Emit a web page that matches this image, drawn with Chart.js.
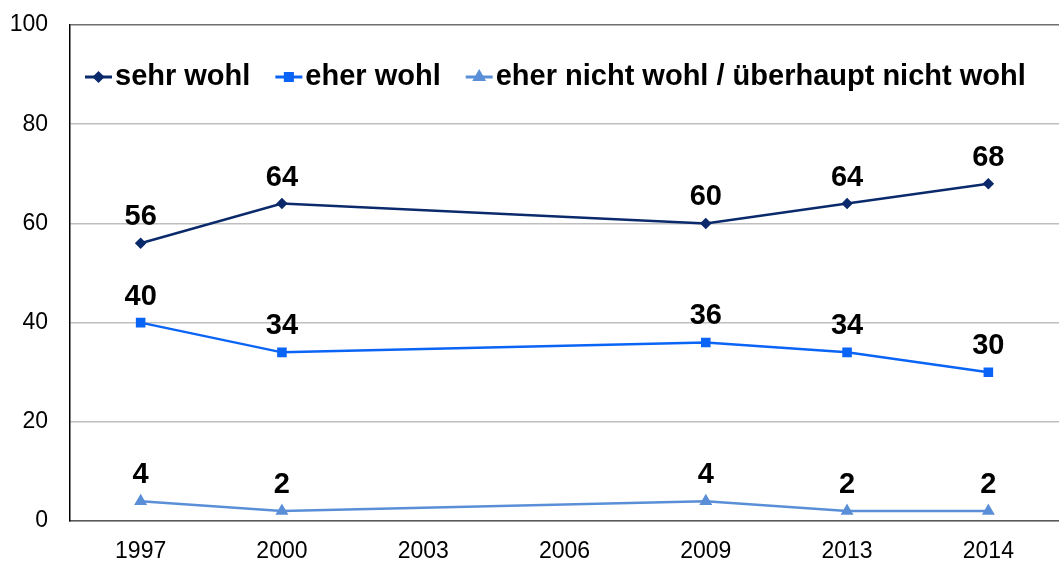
<!DOCTYPE html>
<html>
<head>
<meta charset="utf-8">
<script src="https://cdn.jsdelivr.net/npm/chart.js@4"></script>
<style>
  html, body { margin: 0; padding: 0; background: #ffffff; overflow: hidden; }
  #wrap { width: 1059px; height: 561px; }
  canvas { display: block; }
</style>
</head>
<body>
<div id="wrap"><canvas id="chart" width="1059" height="561"></canvas></div>
<script>
const years = ['1997', '2000', '2003', '2006', '2009', '2013', '2014'];
const sehrWohl = [56, 64, null, null, 60, 64, 68];
const eherWohl = [40, 34, null, null, 36, 34, 30];
const nichtWohl = [4, 2, null, null, 4, 2, 2];
const yTicks = [0, 20, 40, 60, 80, 100];

const labelFont = 'bold 29px "Liberation Sans", Arial, sans-serif';
const tickFont = { family: '"Liberation Sans", Arial, sans-serif', size: 23 };

// value labels above each point
const valueLabels = {
    id: 'valueLabels',
    afterDatasetsDraw(chart) {
        const ctx = chart.ctx;
        ctx.save();
        ctx.font = labelFont;
        ctx.fillStyle = '#000000';
        ctx.textAlign = 'center';
        ctx.textBaseline = 'middle';
        chart.data.datasets.forEach((ds, i) => {
            chart.getDatasetMeta(i).data.forEach((pt, j) => {
                if (ds.data[j] == null) return;
                ctx.fillText(String(ds.data[j]), pt.x, pt.y - 26);
            });
        });
        ctx.restore();
    }
};

// legend drawn inside the plot area
const innerLegend = {
    id: 'innerLegend',
    afterDraw(chart) {
        const ctx = chart.ctx;
        ctx.save();
        ctx.font = labelFont;
        ctx.textBaseline = 'middle';
        let x = 85;
        const y = 77;
        chart.data.datasets.forEach((ds) => {
            ctx.strokeStyle = ds.borderColor;
            ctx.lineWidth = 3;
            ctx.beginPath();
            ctx.moveTo(x, y);
            ctx.lineTo(x + 27, y);
            ctx.stroke();
            Chart.helpers.drawPoint(ctx, {
                pointStyle: ds.pointStyle,
                radius: ds.pointRadius,
                borderWidth: 1
            }, x + 13.5, y);
            ctx.fillStyle = ds.borderColor;
            ctx.fill();
            ctx.fillStyle = '#000000';
            ctx.fillText(ds.label, x + 30, y);
            x += 30 + ctx.measureText(ds.label).width + 25;
        });
        ctx.restore();
    }
};

const ctx = document.getElementById('chart').getContext('2d');
new Chart(ctx, {
    type: 'line',
    data: {
        labels: years,
        datasets: [
            {
                label: 'sehr wohl',
                data: sehrWohl,
                borderColor: '#0b2a6b',
                backgroundColor: '#0b2a6b',
                pointStyle: 'rectRot',
                pointRadius: 4,
                borderWidth: 2.5
            },
            {
                label: 'eher wohl',
                data: eherWohl,
                borderColor: '#0a64f5',
                backgroundColor: '#0a64f5',
                pointStyle: 'rect',
                pointRadius: 5,
                borderWidth: 2.5
            },
            {
                label: 'eher nicht wohl / überhaupt nicht wohl',
                data: nichtWohl,
                borderColor: '#5a8fd8',
                backgroundColor: '#5a8fd8',
                pointStyle: 'triangle',
                pointRadius: 5,
                borderWidth: 2.5
            }
        ]
    },
    options: {
        responsive: false,
        animation: false,
        spanGaps: true,
        layout: { autoPadding: false, padding: { top: 25, right: 0, left: 0, bottom: 0 } },
        plugins: {
            legend: { display: false },
            tooltip: { enabled: false }
        },
        elements: { line: { tension: 0 } },
        scales: {
            x: {
                offset: true,
                grid: { display: false, drawTicks: false },
                border: { color: '#595959', width: 1.5 },
                ticks: { color: '#000000', padding: 17, font: tickFont },
                afterFit(scale) {
                    scale.height = 40;
                    scale.paddingLeft = 0;
                    scale.paddingRight = 0;
                }
            },
            y: {
                min: 0,
                max: 100,
                afterBuildTicks(scale) { scale.ticks = yTicks.map(v => ({ value: v })); },
                grid: {
                    drawTicks: false,
                    color: (c) => c.tick && c.tick.value === 100 ? '#6e6e6e' : '#bfbfbf',
                    lineWidth: 1.5
                },
                border: { color: '#000000', width: 1.5 },
                ticks: { color: '#000000', padding: 22, font: tickFont },
                afterFit(scale) {
                    scale.width = 70;
                    scale.paddingTop = 0;
                    scale.paddingBottom = 0;
                }
            }
        }
    },
    plugins: [valueLabels, innerLegend]
});
</script>
</body>
</html>
